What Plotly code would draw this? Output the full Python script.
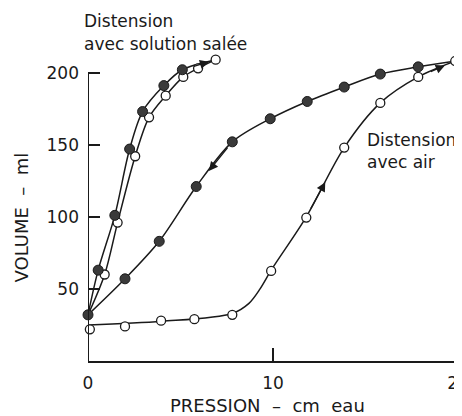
import plotly.graph_objects as go

# ---- data (pressure in cm H2O, volume in ml) ----
saline_def_p = [0.0, 0.55, 1.45, 2.25, 2.95, 4.1, 5.1]
saline_def_v = [32, 63, 101, 147, 173, 191, 202]

saline_inf_p = [0.9, 1.6, 2.55, 3.3, 4.2, 5.15, 5.95, 6.9]
saline_inf_v = [60, 96, 142, 169, 184, 197, 203, 209]

air_def_p = [2.0, 3.85, 5.85, 7.8, 9.85, 11.85, 13.85, 15.8, 17.85]
air_def_v = [57, 83, 121, 152, 168, 180, 190, 199, 204]

air_inf_p = [0.1, 2.0, 3.95, 5.75, 7.8, 9.9, 11.8, 13.85, 15.8, 17.85, 19.85]
air_inf_v = [22, 24, 28, 29, 32, 62.5, 99.5, 148, 179, 197, 208]

# drawn (fitted) inflation curve for air
air_inf_curve_p = [0.0, 4.0, 7.8, 8.7, 9.3, 9.95, 11.8, 13.85, 15.8, 17.85, 19.85]
air_inf_curve_v = [25, 27.5, 33, 40, 50, 64, 100, 148, 179, 197, 208]

x_ticks = [0, 10, 20]
y_ticks = [50, 100, 150, 200]

FONT = "DejaVu Sans"
INK = "#1a1a1a"
FILL = "#3a3a3a"

fig = go.Figure()

# curves
sal_def_line_p = saline_def_p + [saline_inf_p[-1]]
sal_def_line_v = saline_def_v + [saline_inf_v[-1]]
sal_inf_line_p = [saline_def_p[0]] + saline_inf_p
sal_inf_line_v = [saline_def_v[0]] + saline_inf_v
air_def_line_p = [saline_def_p[0]] + air_def_p + [air_inf_p[-1]]
air_def_line_v = [saline_def_v[0]] + air_def_v + [air_inf_v[-1]]

for px, pv in [(sal_def_line_p, sal_def_line_v), (sal_inf_line_p, sal_inf_line_v),
               (air_def_line_p, air_def_line_v), (air_inf_curve_p, air_inf_curve_v)]:
    fig.add_trace(go.Scatter(x=px, y=pv, mode="lines",
                             line=dict(color=INK, width=1.5, shape="spline", smoothing=0.9),
                             hoverinfo="skip", showlegend=False, cliponaxis=False))

# open markers
fig.add_trace(go.Scatter(x=saline_inf_p + air_inf_p, y=saline_inf_v + air_inf_v, mode="markers",
                         marker=dict(size=9, color="white", line=dict(color=INK, width=1.3)),
                         showlegend=False, cliponaxis=False))
# filled markers
fig.add_trace(go.Scatter(x=saline_def_p + air_def_p, y=saline_def_v + air_def_v, mode="markers",
                         marker=dict(size=10, color=FILL, line=dict(color=INK, width=1)),
                         showlegend=False, cliponaxis=False))

# y axis line, only up to 200
fig.add_shape(type="line", xref="x", yref="y", x0=0, x1=0, y0=0, y1=y_ticks[-1],
              line=dict(color=INK, width=2))


def arrow_on(px, pv, i, f0, f1):
    x0 = px[i] + (px[i + 1] - px[i]) * f0
    y0 = pv[i] + (pv[i + 1] - pv[i]) * f0
    x1 = px[i] + (px[i + 1] - px[i]) * f1
    y1 = pv[i] + (pv[i + 1] - pv[i]) * f1
    fig.add_annotation(x=x1, y=y1, ax=x0, ay=y0, xref="x", yref="y", axref="x", ayref="y",
                       text="", showarrow=True, arrowhead=2, arrowsize=1.4, arrowwidth=1.3,
                       arrowcolor=INK)


# deflation arrow (air), pointing down-left
arrow_on(air_def_line_p[::-1], air_def_line_v[::-1], 6, 0.1, 0.65)
# inflation arrow (air), pointing up
arrow_on(air_inf_curve_p, air_inf_curve_v, 6, 0.1, 0.5)
# small arrows at the tops
arrow_on(sal_def_line_p, sal_def_line_v, 6, 0.3, 0.8)
arrow_on(air_inf_curve_p, air_inf_curve_v, 9, 0.3, 0.72)

tf = dict(family=FONT, size=17, color=INK)
tt = dict(family=FONT, size=18, color=INK)

fig.add_annotation(text="Distension", xref="paper", yref="paper", x=-0.017, y=1.096,
                   xanchor="left", yanchor="middle", showarrow=False, font=tf)
fig.add_annotation(text="avec solution salée", xref="paper", yref="paper", x=-0.017, y=1.022,
                   xanchor="left", yanchor="middle", showarrow=False, font=tf)
fig.add_annotation(text="Distension", xref="paper", yref="paper", x=0.748, y=0.714,
                   xanchor="left", yanchor="middle", showarrow=False, font=tf)
fig.add_annotation(text="avec air", xref="paper", yref="paper", x=0.748, y=0.642,
                   xanchor="left", yanchor="middle", showarrow=False, font=tf)
fig.add_annotation(text="PRESSION\u00a0\u00a0–\u00a0\u00a0cm\u00a0\u00a0eau", xref="paper", yref="paper",
                   x=0.484, y=-0.145, xanchor="center", yanchor="middle", showarrow=False, font=tt)
fig.add_annotation(text="VOLUME\u00a0\u00a0–\u00a0\u00a0ml", xref="paper", yref="paper",
                   x=-0.181, y=0.463, xanchor="center", yanchor="middle", textangle=-90,
                   showarrow=False, font=tt)

fig.update_layout(
    width=454, height=408, autosize=False,
    margin=dict(l=80, r=4, t=43, b=55, autoexpand=False),
    plot_bgcolor="white", paper_bgcolor="white",
    font=tf,
    xaxis=dict(range=[0, 20], tickvals=x_ticks, ticktext=[str(t) for t in x_ticks],
               showline=True, linecolor=INK, linewidth=2, ticks="inside", ticklen=13,
               tickwidth=1.5, tickcolor=INK, showgrid=False, zeroline=False,
               ticklabelstandoff=6, ticklabeloverflow="allow", tickfont=tf,
               fixedrange=True, automargin=False),
    yaxis=dict(range=[0, 215], tickvals=y_ticks, ticktext=[str(t) for t in y_ticks],
               showline=False, ticks="inside", ticklen=12, tickwidth=1.5, tickcolor=INK,
               showgrid=False, zeroline=False, ticklabelstandoff=8, tickfont=tf,
               fixedrange=True, automargin=False),
)

fig.write_html("out.html")
